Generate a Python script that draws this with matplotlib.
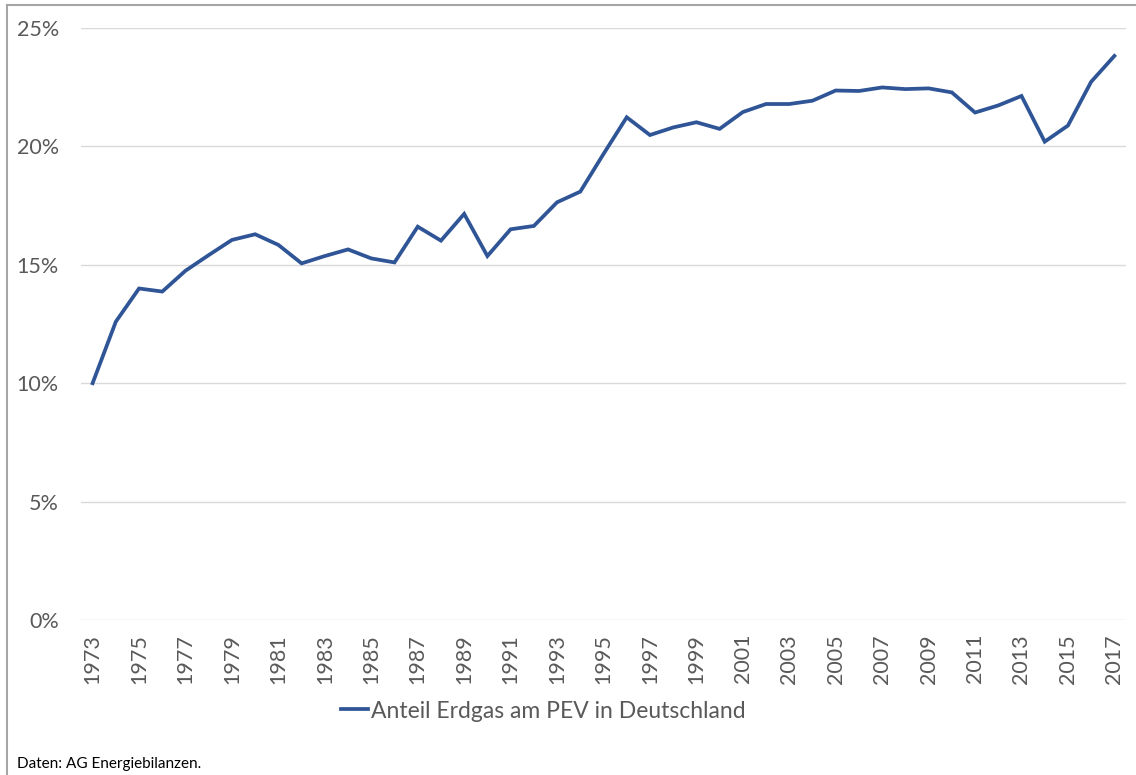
"""
    Anteil Erdgas am Primaerenergieverbrauch in Deutschland, 1973-2017
"""

import matplotlib

matplotlib.use("Agg")
import matplotlib.pyplot as plt
from matplotlib.lines import Line2D
from matplotlib.ticker import PercentFormatter

years = list(range(1973, 2018))
share = [
    10.0, 12.6, 14.0, 13.87, 14.75, 15.41, 16.05, 16.29, 15.84, 15.06,
    15.37, 15.65, 15.27, 15.10, 16.61, 16.02, 17.15, 15.37, 16.50, 16.64,
    17.64, 18.09, 19.68, 21.23, 20.48, 20.80, 21.02, 20.74, 21.45, 21.79,
    21.79, 21.93, 22.36, 22.34, 22.49, 22.42, 22.45, 22.28, 21.43, 21.73,
    22.13, 20.20, 20.88, 22.73, 23.82,
]
series_label = "Anteil Erdgas am PEV in Deutschland"
source = "Daten: AG Energiebilanzen."

plt.rcParams["font.family"] = ["Lato", "DejaVu Sans"]
W, H = 1136, 775
fig = plt.figure(figsize=(W / 100, H / 100), dpi=100)

ax = fig.add_axes([81 / W, 1 - 620 / H, (1126 - 81) / W, (620 - 28) / H])
ax.plot(years, share, color="#2F5597", lw=2.7, label=series_label,
        solid_joinstyle="miter")

ax.set_xlim(1972.5, 2017.5)
ax.set_ylim(0, 25)
ax.set_yticks(range(0, 26, 5))
ax.yaxis.set_major_formatter(PercentFormatter(decimals=0))
ax.set_xticks(years[::2])
ax.set_xticklabels([str(y) for y in years[::2]], rotation=90)
ax.tick_params(axis="y", length=0, pad=16, labelsize=15.5, labelcolor="#595959")
ax.tick_params(axis="x", length=0, pad=10, labelsize=15.5, labelcolor="#595959")
ax.grid(axis="y", color="#D9D9D9", lw=1)
ax.set_axisbelow(True)
for s in ax.spines.values():
    s.set_visible(False)

ax.legend(loc="center", bbox_to_anchor=(543 / W, 1 - 711 / H),
          bbox_transform=fig.transFigure, frameon=False, fontsize=16.5,
          handlelength=1.2, handletextpad=0.1,
          labelcolor="#595959")

fig.text(17 / W, 1 - 764 / H, source, fontsize=11, va="center", ha="left",
         color="#000000")

# outer frame (left and top edges visible in the original)
fig.add_artist(Line2D([7 / W, 7 / W], [0, 1 - 5 / H], color="#A6A6A6", lw=1.5,
                      transform=fig.transFigure))
fig.add_artist(Line2D([7 / W, 1], [1 - 5 / H, 1 - 5 / H], color="#A6A6A6", lw=1.5,
                      transform=fig.transFigure))

fig.savefig("out.png", dpi=100)
